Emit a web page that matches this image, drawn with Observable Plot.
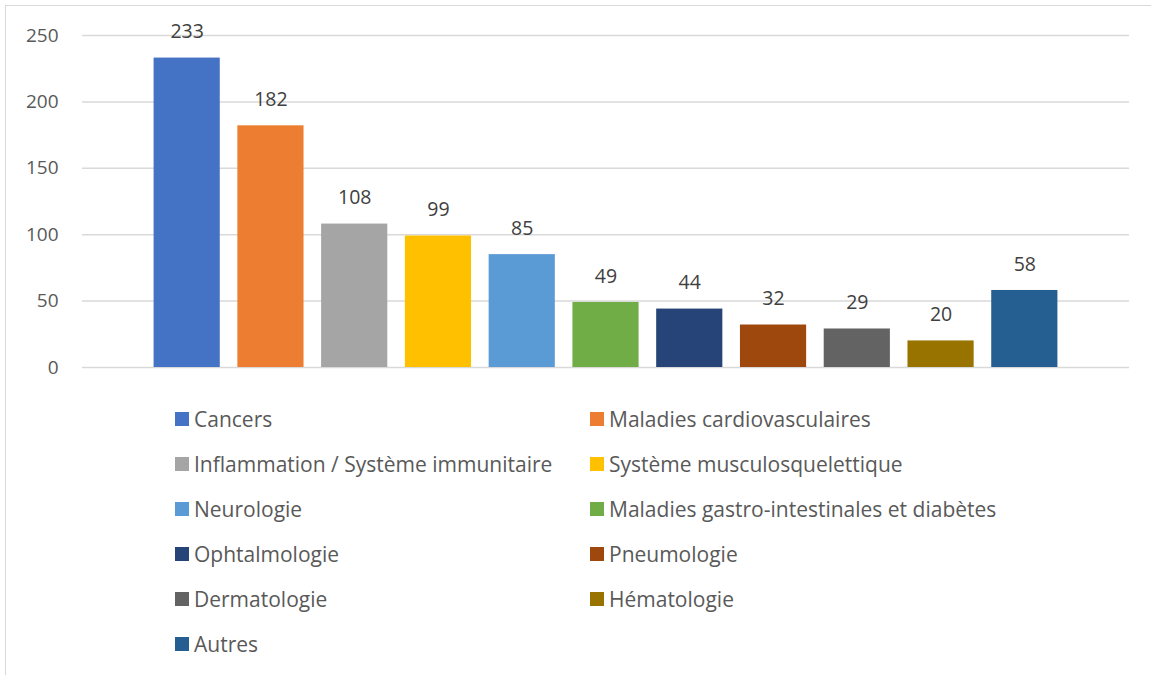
<!DOCTYPE html>
<html>
<head>
<meta charset="utf-8">
<script src="https://cdn.jsdelivr.net/npm/d3@7"></script>
<script src="https://cdn.jsdelivr.net/npm/@observablehq/plot@0.6"></script>
<style>
  html, body { margin: 0; padding: 0; background: #fff; }
  #wrap { position: relative; width: 1151px; height: 675px; overflow: hidden; font-family: "Open Sans", sans-serif; }
  #frame { position: absolute; left: 5px; top: 5px; width: 1200px; height: 700px; border-left: 1.5px solid #d9d9d9; border-top: 1.5px solid #d9d9d9; }
  #chart { position: absolute; left: 0; top: 0; }
  #legend { position: absolute; left: 175px; top: 396px; display: grid; grid-template-columns: 415px 400px; grid-auto-rows: 45px; }
  .item { display: flex; align-items: center; font-size: 21px; color: #595959; white-space: nowrap; }
  .sw { width: 14px; height: 14px; margin-right: 5px; flex: none; }
</style>
</head>
<body>
<div id="wrap">
  <div id="frame"></div>
  <div id="chart"></div>
  <div id="legend"></div>
</div>
<script>
const categories = [
  "Cancers",
  "Maladies cardiovasculaires",
  "Inflammation / Système immunitaire",
  "Système musculosquelettique",
  "Neurologie",
  "Maladies gastro-intestinales et diabètes",
  "Ophtalmologie",
  "Pneumologie",
  "Dermatologie",
  "Hématologie",
  "Autres"
];
const values = [233, 182, 108, 99, 85, 49, 44, 32, 29, 20, 58];
const colors = ["#4472C4", "#ED7D31", "#A5A5A5", "#FFC000", "#5B9BD5", "#70AD47",
                "#264478", "#9E480E", "#636363", "#997300", "#255E91"];
const yTicks = [0, 50, 100, 150, 200, 250];

const data = categories.map((c, i) => ({category: c, value: values[i]}));

const chart = Plot.plot({
  width: 1151,
  height: 385,
  marginTop: 35,
  marginBottom: 18,
  marginLeft: 82,
  marginRight: 22,
  style: {fontFamily: "Open Sans, sans-serif", fontSize: "18px", color: "#595959", background: "transparent"},
  x: {domain: categories, padding: 0.21, round: false, insetLeft: 54, insetRight: 54, axis: null},
  y: {domain: [0, 250], ticks: yTicks, label: null},
  color: {domain: categories, range: colors},
  marks: [
    Plot.ruleY(yTicks, {stroke: "#d9d9d9", strokeWidth: 1.5}),
    Plot.axisY({ticks: yTicks, tickSize: 0, tickPadding: 24, label: null, fill: "#595959", fontSize: 19}),
    Plot.barY(data, {x: "category", y: "value", fill: "category"}),
    Plot.text(data, {x: "category", y: "value", text: d => String(d.value), dy: -26, fill: "#404040", fontSize: 19.5})
  ]
});
document.getElementById("chart").appendChild(chart);

const legend = document.getElementById("legend");
categories.forEach((c, i) => {
  const item = document.createElement("div");
  item.className = "item";
  const sw = document.createElement("span");
  sw.className = "sw";
  sw.style.background = colors[i];
  const t = document.createElement("span");
  t.textContent = c;
  item.appendChild(sw);
  item.appendChild(t);
  legend.appendChild(item);
});
</script>
</body>
</html>
